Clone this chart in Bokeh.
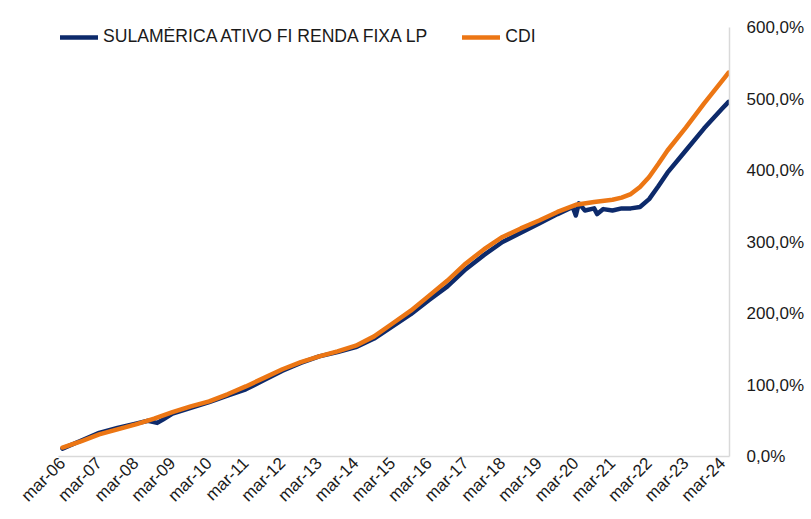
import math
from bokeh.plotting import figure
from bokeh.models import FixedTicker, Range1d, Legend, LegendItem, ColumnDataSource
from bokeh.embed import file_html
from bokeh.resources import INLINE

# ---- data ----
x_tick_labels = ["mar-06", "mar-07", "mar-08", "mar-09", "mar-10", "mar-11", "mar-12",
                 "mar-13", "mar-14", "mar-15", "mar-16", "mar-17", "mar-18", "mar-19",
                 "mar-20", "mar-21", "mar-22", "mar-23", "mar-24"]
y_ticks = [0, 100, 200, 300, 400, 500, 600]
y_tick_labels = ["0,0%", "100,0%", "200,0%", "300,0%", "400,0%", "500,0%", "600,0%"]

fund_name = "SULAMÉRICA ATIVO FI RENDA FIXA LP"
fund_dates = ["2006-03", "2006-09", "2007-03", "2007-09", "2008-03", "2008-07", "2008-10",
              "2008-12", "2009-03", "2009-09", "2010-03", "2010-09", "2011-03", "2011-09",
              "2012-03", "2012-09", "2013-03", "2013-09", "2014-03", "2014-09", "2015-03",
              "2015-09", "2016-03", "2016-09", "2017-03", "2017-09", "2018-03", "2018-09",
              "2019-03", "2019-09", "2020-02", "2020-03", "2020-04", "2020-06", "2020-09",
              "2020-10", "2020-12", "2021-03", "2021-06", "2021-09", "2021-12", "2022-03",
              "2022-06", "2022-09", "2023-03", "2023-09", "2024-03", "2024-05"]
fund_values = [11, 22, 33, 40, 46, 50, 47, 52, 60, 68, 76, 85, 94, 107, 120, 131, 140, 146,
               153, 165, 182, 199, 219, 238, 262, 282, 300, 313, 326, 339, 349, 337, 354,
               344, 347, 339, 346, 344, 347, 347, 349, 360, 378, 397, 428, 459, 487, 496]

cdi_name = "CDI"
cdi_dates = ["2006-03", "2006-09", "2007-03", "2007-09", "2008-03", "2008-09", "2009-03",
             "2009-09", "2010-03", "2010-09", "2011-03", "2011-09", "2012-03", "2012-09",
             "2013-03", "2013-09", "2014-03", "2014-09", "2015-03", "2015-09", "2016-03",
             "2016-09", "2017-03", "2017-09", "2018-03", "2018-09", "2019-03", "2019-09",
             "2020-03", "2020-09", "2021-03", "2021-06", "2021-09", "2021-12", "2022-03",
             "2022-06", "2022-09", "2023-03", "2023-09", "2024-03", "2024-05"]
cdi_values = [12.5, 21, 31, 38, 45, 53, 62, 70, 77, 87, 98, 110, 122, 132, 140, 147, 155,
              168, 186, 204, 225, 246, 270, 290, 307, 319, 330, 342, 352, 356, 359, 362,
              367, 377, 391, 409, 428, 460, 494, 526, 537]


def month_index(d):
    y, m = d.split("-")
    return (int(y) - 2006) * 12 + (int(m) - 3)


fund_src = ColumnDataSource(dict(x=[month_index(d) for d in fund_dates], y=fund_values))
cdi_src = ColumnDataSource(dict(x=[month_index(d) for d in cdi_dates], y=cdi_values))

FONT = "Liberation Sans"
TXT = "#1a1a1a"

p = figure(width=808, height=518, output_backend="svg", toolbar_location=None,
           x_range=Range1d(-1.3, 218.3), y_range=Range1d(0, 600),
           y_axis_location="right",
           min_border_left=58, min_border_right=79, min_border_top=27, min_border_bottom=62)
p.outline_line_color = None
p.xgrid.grid_line_color = None
p.ygrid.grid_line_color = None
p.background_fill_color = "white"
p.border_fill_color = "white"

r_fund = p.line("x", "y", source=fund_src, line_color="#0d2a6b", line_width=4.5,
                line_cap="round", line_join="round")
r_cdi = p.line("x", "y", source=cdi_src, line_color="#ec7614", line_width=4.5,
               line_cap="round", line_join="round")

x_ticks = [12 * i for i in range(len(x_tick_labels))]
xa = p.xaxis[0]
xa.ticker = FixedTicker(ticks=x_ticks)
xa.major_label_overrides = {t: lab for t, lab in zip(x_ticks, x_tick_labels)}
xa.major_label_orientation = math.pi / 4
xa.axis_line_color = "#d9d9d9"
xa.axis_line_width = 1.5
xa.major_tick_line_color = None
xa.minor_tick_line_color = None
xa.major_tick_out = 0
xa.minor_tick_out = 0
xa.major_label_standoff = 4
xa.major_label_text_font = FONT
xa.major_label_text_font_size = "17px"
xa.major_label_text_color = TXT

ya = p.yaxis[0]
ya.ticker = FixedTicker(ticks=y_ticks)
ya.major_label_overrides = {t: lab for t, lab in zip(y_ticks, y_tick_labels)}
ya.axis_line_color = "#d9d9d9"
ya.axis_line_width = 1.5
ya.major_tick_line_color = None
ya.minor_tick_line_color = None
ya.major_tick_out = 0
ya.minor_tick_out = 0
ya.major_label_standoff = 17
ya.major_label_text_font = FONT
ya.major_label_text_font_size = "17px"
ya.major_label_text_color = TXT

legend = Legend(items=[LegendItem(label=fund_name, renderers=[r_fund]),
                       LegendItem(label=cdi_name, renderers=[r_cdi])],
                location=(2, 409), orientation="horizontal",
                margin=0, padding=0, spacing=35, glyph_width=38, label_standoff=5,
                label_text_font=FONT, label_text_font_size="17.6px", label_text_color=TXT,
                background_fill_alpha=0, border_line_color=None)
p.add_layout(legend)

open("out.html", "w").write(file_html(p, INLINE))
